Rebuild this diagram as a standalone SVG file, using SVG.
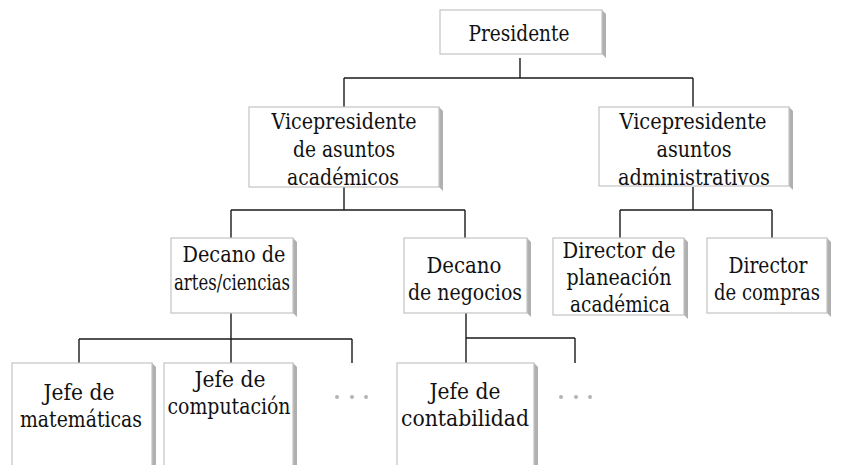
<svg xmlns="http://www.w3.org/2000/svg" width="842" height="465" viewBox="0 0 842 465">
<style>
.box{fill:#fff;stroke:#c4c4c4;stroke-width:1.2}
.sh{fill:#b0b0b0}
.t{font-family:'DejaVu Serif','Noto Serif',serif;font-size:22.5px;fill:#111;text-anchor:middle}
.c{stroke:#1a1a1a;stroke-width:1.4;fill:none}
.dot{fill:#b4b4b4}
</style>
<rect width="842" height="465" fill="#fff"/>
<g id="connectors">
<path class="c" d="M520 58V78M344 78H693M344 78V107M693 78V107"/>
<path class="c" d="M344 187V210M231 210H465M231 210V238M465 210V238"/>
<path class="c" d="M693 187V210M620 210H772M620 210V238M772 210V238"/>
<path class="c" d="M231 313V339M79 339H352M79 339V363M231 339V363M352 339V363"/>
<path class="c" d="M466 313V363M466 338H575M575 338V363"/>
</g>
<g id="presidente">
<polygon class="sh" points="602,10 606,14 606,58 602,54"/>
<rect class="box" x="440" y="10" width="162" height="44"/>
<text class="t" x="519" y="41" textLength="101" lengthAdjust="spacingAndGlyphs">Presidente</text>
</g>
<g id="vp-academicos">
<polygon class="sh" points="439,107 443,111 443,191 439,187"/>
<rect class="box" x="249" y="107" width="190" height="80"/>
<text class="t" x="344" y="129" textLength="145" lengthAdjust="spacingAndGlyphs">Vicepresidente</text>
<text class="t" x="344" y="157" textLength="102" lengthAdjust="spacingAndGlyphs">de asuntos</text>
<text class="t" x="343" y="185" textLength="112" lengthAdjust="spacingAndGlyphs">académicos</text>
</g>
<g id="vp-administrativos">
<polygon class="sh" points="789,107 793,111 793,190 789,186"/>
<rect class="box" x="599" y="107" width="190" height="79"/>
<text class="t" x="693" y="129" textLength="147" lengthAdjust="spacingAndGlyphs">Vicepresidente</text>
<text class="t" x="694" y="157" textLength="75" lengthAdjust="spacingAndGlyphs">asuntos</text>
<text class="t" x="694" y="185" textLength="152" lengthAdjust="spacingAndGlyphs">administrativos</text>
</g>
<g id="decano-artes">
<polygon class="sh" points="293,238 297,242 297,317 293,313"/>
<rect class="box" x="171" y="238" width="122" height="75"/>
<text class="t" x="234" y="262" textLength="103" lengthAdjust="spacingAndGlyphs">Decano de</text>
<text class="t" x="232" y="290" textLength="116" lengthAdjust="spacingAndGlyphs">artes/ciencias</text>
</g>
<g id="decano-negocios">
<polygon class="sh" points="527,238 531,242 531,317 527,313"/>
<rect class="box" x="404" y="238" width="123" height="75"/>
<text class="t" x="464" y="273" textLength="75" lengthAdjust="spacingAndGlyphs">Decano</text>
<text class="t" x="465" y="300" textLength="114" lengthAdjust="spacingAndGlyphs">de negocios</text>
</g>
<g id="director-planeacion">
<polygon class="sh" points="684,238 688,242 688,319 684,315"/>
<rect class="box" x="553" y="238" width="131" height="77"/>
<text class="t" x="619" y="258" textLength="113" lengthAdjust="spacingAndGlyphs">Director de</text>
<text class="t" x="619" y="285" textLength="105" lengthAdjust="spacingAndGlyphs">planeación</text>
<text class="t" x="620" y="312" textLength="100" lengthAdjust="spacingAndGlyphs">académica</text>
</g>
<g id="director-compras">
<polygon class="sh" points="827,238 831,242 831,317 827,313"/>
<rect class="box" x="707" y="238" width="120" height="75"/>
<text class="t" x="768" y="273" textLength="79" lengthAdjust="spacingAndGlyphs">Director</text>
<text class="t" x="767" y="300" textLength="106" lengthAdjust="spacingAndGlyphs">de compras</text>
</g>
<g id="jefe-matematicas">
<polygon class="sh" points="152,363 156,367 156,470 152,470"/>
<rect class="box" x="12" y="363" width="140" height="110"/>
<text class="t" x="79" y="400" textLength="71" lengthAdjust="spacingAndGlyphs">Jefe de</text>
<text class="t" x="81" y="427" textLength="122" lengthAdjust="spacingAndGlyphs">matemáticas</text>
</g>
<g id="jefe-computacion">
<polygon class="sh" points="293,363 297,367 297,470 293,470"/>
<rect class="box" x="164" y="363" width="129" height="110"/>
<text class="t" x="230" y="387" textLength="71" lengthAdjust="spacingAndGlyphs">Jefe de</text>
<text class="t" x="229" y="414" textLength="123" lengthAdjust="spacingAndGlyphs">computación</text>
</g>
<g id="dots-1">
<circle class="dot" cx="337" cy="397" r="2"/>
<circle class="dot" cx="352" cy="397" r="2"/>
<circle class="dot" cx="366" cy="397" r="2"/>
</g>
<g id="jefe-contabilidad">
<polygon class="sh" points="534,363 538,367 538,470 534,470"/>
<rect class="box" x="397" y="363" width="137" height="110"/>
<text class="t" x="465" y="399" textLength="71" lengthAdjust="spacingAndGlyphs">Jefe de</text>
<text class="t" x="465" y="426" textLength="128" lengthAdjust="spacingAndGlyphs">contabilidad</text>
</g>
<g id="dots-2">
<circle class="dot" cx="561" cy="397" r="2"/>
<circle class="dot" cx="576" cy="397" r="2"/>
<circle class="dot" cx="590" cy="397" r="2"/>
</g>
</svg>
